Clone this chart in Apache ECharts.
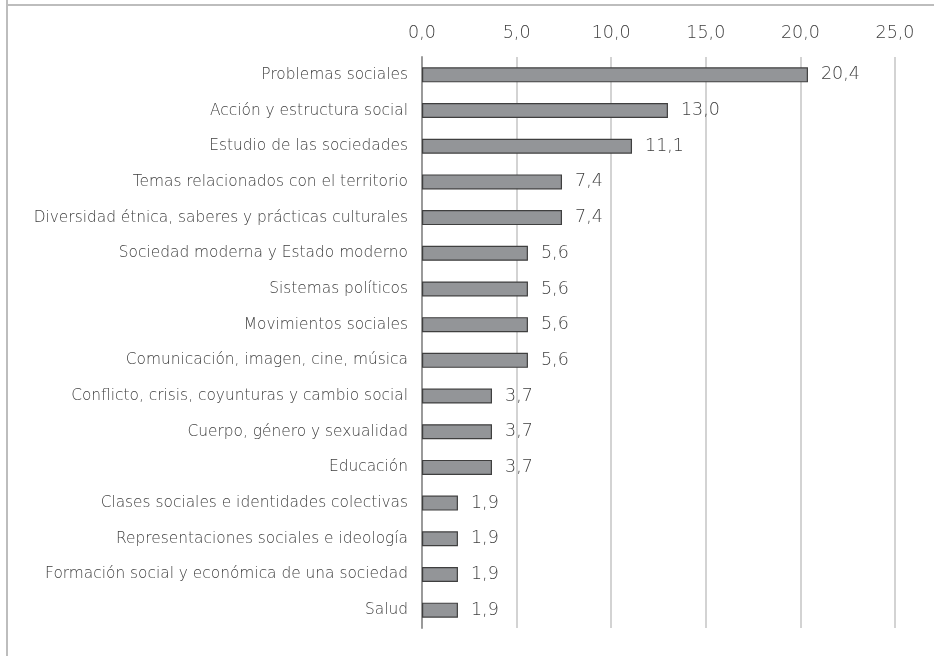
<!DOCTYPE html>
<html>
<head>
<meta charset="utf-8">
<script src="https://cdn.jsdelivr.net/npm/echarts@6/dist/echarts.min.js"></script>
<style>
  html, body { margin: 0; padding: 0; background: #fff; }
  #main { width: 934px; height: 656px; }
</style>
</head>
<body>
<div id="main"></div>
<script>
var categories = [
    'Problemas sociales',
    'Acción y estructura social',
    'Estudio de las sociedades',
    'Temas relacionados con el territorio',
    'Diversidad étnica, saberes y prácticas culturales',
    'Sociedad moderna y Estado moderno',
    'Sistemas políticos',
    'Movimientos sociales',
    'Comunicación, imagen, cine, música',
    'Conflicto, crisis, coyunturas y cambio social',
    'Cuerpo, género y sexualidad',
    'Educación',
    'Clases sociales e identidades colectivas',
    'Representaciones sociales e ideología',
    'Formación social y económica de una sociedad',
    'Salud'
];
var values = [20.4, 13.0, 11.1, 7.4, 7.4, 5.6, 5.6, 5.6, 5.6, 3.7, 3.7, 3.7, 1.9, 1.9, 1.9, 1.9];

function fmt(v) {
    return v.toFixed(1).replace('.', ',');
}

var myChart = echarts.init(document.getElementById('main'));

var textColor = '#404040';
var fontFam = '"DejaVu Sans", "Open Sans", sans-serif';

var option = {
    backgroundColor: '#fff',
    animation: false,
    graphic: [
        { type: 'line', shape: { x1: 7, y1: 0, x2: 7, y2: 656 }, style: { stroke: '#bdbdbd', lineWidth: 2 } },
        { type: 'line', shape: { x1: 7, y1: 5, x2: 934, y2: 5 }, style: { stroke: '#bdbdbd', lineWidth: 2 } }
    ],
    grid: { left: 422, right: 39, top: 57, bottom: 28, containLabel: false },
    xAxis: {
        type: 'value',
        position: 'top',
        min: 0,
        max: 25,
        interval: 5,
        axisLine: { show: false },
        axisTick: { show: false },
        axisLabel: {
            formatter: fmt,
            color: textColor,
            fontFamily: fontFam,
            fontWeight: 200,
            fontSize: 17.5,
            margin: 15
        },
        splitLine: { show: true, lineStyle: { color: '#c4c4c4', width: 1.5 } }
    },
    yAxis: {
        type: 'category',
        inverse: true,
        data: categories,
        axisLine: { show: true, lineStyle: { color: '#9a9a9a', width: 2 } },
        axisTick: { show: false },
        axisLabel: {
            color: textColor,
            fontFamily: fontFam,
            fontWeight: 200,
            fontSize: 15.4,
            margin: 14
        }
    },
    series: [{
        type: 'bar',
        data: values,
        barWidth: 15,
        itemStyle: { color: '#939598', borderColor: '#3f3f3f', borderWidth: 1.2 },
        label: {
            show: true,
            position: 'right',
            distance: 13,
            formatter: function (p) { return fmt(p.value); },
            color: textColor,
            fontFamily: fontFam,
            fontWeight: 200,
            fontSize: 17.5
        }
    }]
};

myChart.setOption(option);
</script>
</body>
</html>
